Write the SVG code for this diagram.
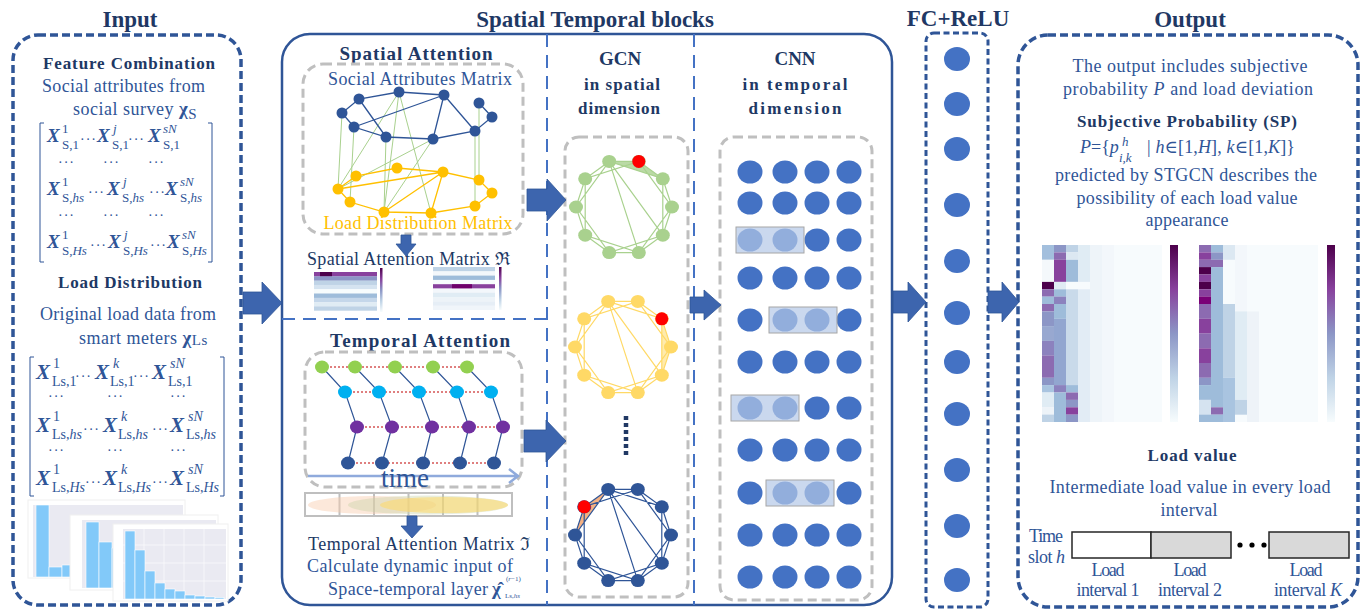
<svg xmlns="http://www.w3.org/2000/svg" width="1367" height="616" viewBox="0 0 1367 616">
<style>
text{font-family:"Liberation Serif","DejaVu Serif",serif}
.ti{font-weight:bold;font-size:23px;fill:#1F3864;text-anchor:middle}
.h{font-weight:bold;font-size:17px;fill:#203864;text-anchor:middle}
.h2{font-weight:bold;font-size:19px;fill:#203864;text-anchor:middle}
.b{font-size:18px;fill:#2F5597}
.bc{font-size:18px;fill:#2F5597;text-anchor:middle}
.dk{font-size:18px;fill:#203864}
.X{font-weight:bold;font-style:italic;font-size:19px;fill:#2F5597}
.X2{font-weight:bold;font-style:italic;font-size:21px;fill:#2F5597}
.s{font-size:13px;fill:#2F5597}
.s2{font-size:14px;fill:#2F5597}
.dt{font-size:14px;fill:#2F5597;letter-spacing:1px}
.i{font-style:italic}
.dash{fill:none;stroke:#2F5597;stroke-width:3.5;stroke-dasharray:8 4}
.gbox{fill:none;stroke:#BFBFBF;stroke-width:3;stroke-dasharray:9 5}
.arr{fill:#3D65AE;stroke:#2F5597;stroke-width:0.8}
.cn{fill:#4472C4}
.hl{fill:#B4C7E7;fill-opacity:0.7;stroke:#A6A6A6;stroke-width:1}
.mb{fill:none;stroke:#2F5597;stroke-width:1}
</style>
<defs>
<linearGradient id="cb" x1="0" y1="0" x2="0" y2="1">
<stop offset="0" stop-color="#4D004B"/><stop offset="0.25" stop-color="#88419D"/><stop offset="0.5" stop-color="#8C96C6"/><stop offset="0.75" stop-color="#BFD3E6"/><stop offset="1" stop-color="#F7FCFD"/>
</linearGradient>
<g id="dec">
<path d="M-14.8,-45.6 L14.8,-45.6 L38.8,-28.2 L48,0 L38.8,28.2 L14.8,45.6 L-14.8,45.6 L-38.8,28.2 L-48,0 L-38.8,-28.2Z M-14.8,-45.6 L38.8,-28.2 L38.8,28.2 L-14.8,45.6 L-48,0Z M14.8,-45.6 L48,0 L14.8,45.6 L-38.8,28.2 L-38.8,-28.2Z M-14.8,-45.6 L14.8,45.6 M-14.8,-45.6 L38.8,28.2" fill="none" stroke="currentColor" stroke-width="1.2"/>
<g fill="currentColor">
<ellipse cx="-14.8" cy="-45.6" rx="7" ry="6.5"/><ellipse cx="14.8" cy="-45.6" rx="7" ry="6.5"/><ellipse cx="38.8" cy="-28.2" rx="7" ry="6.5"/><ellipse cx="48" cy="0" rx="7" ry="6.5"/><ellipse cx="38.8" cy="28.2" rx="7" ry="6.5"/><ellipse cx="14.8" cy="45.6" rx="7" ry="6.5"/><ellipse cx="-14.8" cy="45.6" rx="7" ry="6.5"/><ellipse cx="-38.8" cy="28.2" rx="7" ry="6.5"/><ellipse cx="-48" cy="0" rx="7" ry="6.5"/><ellipse cx="-38.8" cy="-28.2" rx="7" ry="6.5"/>
</g>
</g>
</defs>
<rect width="1367" height="616" fill="#fff"/>

<!-- INPUT -->
<g id="input">
<text class="ti" x="130" y="27">Input</text>
<rect class="dash" x="13" y="35" width="228" height="570" rx="25"/>
<text class="h" x="129" y="69" textLength="172">Feature Combination</text>
<text class="b" x="42" y="92" textLength="163">Social attributes from</text>
<text class="b" x="73" y="115" letter-spacing="0.5">social survey <tspan style="font-size:19px;font-weight:bold">χ</tspan><tspan font-size="15" dy="4">S</tspan></text>
<path class="mb" d="M44,123 H40 V262 H44 M208,123 H212 V262 H208"/>
<text class="X" x="47" y="142">X</text><text class="s" x="62" y="133">1</text><text class="s" x="62" y="149">S,1</text>
<text class="dt" x="80" y="144">···</text>
<text class="X" x="97" y="142">X</text><text class="s i" x="113" y="133">j</text><text class="s" x="112" y="149">S,1</text>
<text class="dt" x="128" y="144">···</text>
<text class="X" x="148" y="142">X</text><text class="s i" x="163" y="133">sN</text><text class="s" x="163" y="149">S,1</text>
<text class="dt" x="58" y="167">···</text><text class="dt" x="103" y="167">···</text><text class="dt" x="148" y="167">···</text>
<text class="X" x="47" y="195">X</text><text class="s" x="62" y="186">1</text><text class="s" x="62" y="202">S,<tspan class="i">hs</tspan></text>
<text class="dt" x="88" y="197">···</text>
<text class="X" x="107" y="195">X</text><text class="s i" x="123" y="186">j</text><text class="s" x="122" y="202">S,<tspan class="i">hs</tspan></text>
<text class="dt" x="149" y="197">···</text>
<text class="X" x="165" y="195">X</text><text class="s i" x="180" y="186">sN</text><text class="s" x="180" y="202">S,<tspan class="i">hs</tspan></text>
<text class="dt" x="58" y="220">···</text><text class="dt" x="103" y="220">···</text><text class="dt" x="148" y="220">···</text>
<text class="X" x="47" y="248">X</text><text class="s" x="62" y="239">1</text><text class="s" x="62" y="255">S,<tspan class="i">Hs</tspan></text>
<text class="dt" x="90" y="250">···</text>
<text class="X" x="108" y="248">X</text><text class="s i" x="124" y="239">j</text><text class="s" x="123" y="255">S,<tspan class="i">Hs</tspan></text>
<text class="dt" x="150" y="250">···</text>
<text class="X" x="167" y="248">X</text><text class="s i" x="182" y="239">sN</text><text class="s" x="182" y="255">S,<tspan class="i">Hs</tspan></text>

<text class="h" x="130" y="288" textLength="144">Load Distribution</text>
<text class="b" x="40" y="320" textLength="176">Original load data from</text>
<text class="b" x="79" y="344" letter-spacing="0.5">smart meters <tspan style="font-size:19px;font-weight:bold">χ</tspan><tspan font-size="15" dy="1">Ls</tspan></text>
<path class="mb" d="M34,357 H30 V496 H34 M220,357 H224 V496 H220"/>
<text class="X2" x="36" y="379">X</text><text class="s2" x="53" y="368">1</text><text class="s2" x="52" y="386">Ls,1</text>
<text class="dt" x="75" y="381">···</text>
<text class="X2" x="95" y="379">X</text><text class="s2 i" x="113" y="368">k</text><text class="s2" x="110" y="386">Ls,1</text>
<text class="dt" x="133" y="381">···</text>
<text class="X2" x="152" y="379">X</text><text class="s2 i" x="170" y="368">sN</text><text class="s2" x="168" y="386">Ls,1</text>
<text class="dt" x="48" y="401">···</text><text class="dt" x="107" y="401">···</text><text class="dt" x="170" y="401">···</text>
<text class="X2" x="36" y="432">X</text><text class="s2" x="53" y="421">1</text><text class="s2" x="52" y="439">Ls,<tspan class="i">hs</tspan></text>
<text class="dt" x="83" y="434">···</text>
<text class="X2" x="103" y="432">X</text><text class="s2 i" x="121" y="421">k</text><text class="s2" x="118" y="439">Ls,<tspan class="i">hs</tspan></text>
<text class="dt" x="152" y="434">···</text>
<text class="X2" x="170" y="432">X</text><text class="s2 i" x="188" y="421">sN</text><text class="s2" x="186" y="439">Ls,<tspan class="i">hs</tspan></text>
<text class="dt" x="48" y="455">···</text><text class="dt" x="107" y="455">···</text><text class="dt" x="170" y="455">···</text>
<text class="X2" x="36" y="485">X</text><text class="s2" x="53" y="474">1</text><text class="s2" x="52" y="492">Ls,<tspan class="i">Hs</tspan></text>
<text class="dt" x="85" y="487">···</text>
<text class="X2" x="103" y="485">X</text><text class="s2 i" x="121" y="474">k</text><text class="s2" x="118" y="492">Ls,<tspan class="i">Hs</tspan></text>
<text class="dt" x="152" y="487">···</text>
<text class="X2" x="170" y="485">X</text><text class="s2 i" x="188" y="474">sN</text><text class="s2" x="186" y="492">Ls,<tspan class="i">Hs</tspan></text>

<!-- histograms -->
<g id="hist">
<rect x="28" y="500" width="157" height="78" fill="#fff" stroke="#F0F0F0"/>
<rect x="33" y="505" width="150" height="72" fill="#EAEAF2"/>
<g fill="#82C9F9" stroke="#fff" stroke-width="0.6">
<rect x="36" y="505" width="13" height="72"/><rect x="49" y="567" width="13" height="10"/><rect x="62" y="565" width="13" height="12"/>
</g>
<rect x="70" y="515" width="148" height="75" fill="#fff" stroke="#F0F0F0"/>
<rect x="82" y="520" width="134" height="68" fill="#EAEAF2"/>
<g fill="#82C9F9" stroke="#fff" stroke-width="0.6">
<rect x="86" y="522" width="13" height="66"/><rect x="99" y="542" width="13" height="46"/><rect x="112" y="548" width="4" height="40"/>
</g>
<rect x="113" y="524" width="115" height="77" fill="#fff" stroke="#F0F0F0"/>
<rect x="123" y="529" width="103" height="70" fill="#EAEAF2"/>
<g stroke="#fff" stroke-width="0.6"><path d="M144,529V599M164,529V599M184,529V599M204,529V599M123,545H226M123,563H226M123,581H226" fill="none"/></g>
<g fill="#82C9F9" stroke="#fff" stroke-width="0.6">
<rect x="125" y="531" width="10" height="68"/><rect x="135" y="550" width="10" height="49"/><rect x="145" y="571" width="10" height="28"/><rect x="155" y="583" width="10" height="16"/><rect x="165" y="589" width="10" height="10"/><rect x="175" y="591" width="10" height="8"/><rect x="185" y="595" width="10" height="4"/><rect x="195" y="596" width="10" height="3"/><rect x="205" y="597" width="10" height="2"/><rect x="215" y="597.5" width="9" height="1.5"/>
</g>
</g>
</g>

<!-- SPATIAL TEMPORAL BLOCKS -->
<g id="st-blocks">
<text class="ti" x="595" y="27">Spatial Temporal blocks</text>
<rect x="282" y="34" width="610" height="571" rx="28" fill="none" stroke="#2F5597" stroke-width="2.5"/>
<path d="M547,34 V605 M694,34 V605" stroke="#4472C4" stroke-width="2" stroke-dasharray="13 8" fill="none"/>
<path d="M282,319 H547" stroke="#4472C4" stroke-width="2" stroke-dasharray="13 8" fill="none"/>

<g id="spatial-attention">
<text class="h2" x="416" y="60" textLength="153">Spatial Attention</text>
<rect class="gbox" x="303" y="64" width="220" height="170" rx="20"/>
<text class="bc" x="420" y="85" textLength="184">Social Attributes Matrix</text>
<g stroke="#A9D18E" stroke-width="1" fill="none">
<path d="M342,113 L338,189 M354,127 L350,202 M386,137 L384,212 M475,131 L475,206 M399,92 L338,189 M399,92 L384,212 M399,92 L431,213 M433,139 L338,189 M433,139 L384,212 M479,103 L479,180"/>
</g>
<g stroke="#2F5597" stroke-width="1.3" fill="none">
<path d="M342,113 L359,99 L399,92 L444,95 M479,103 L492,117 L475,131 L433,139 L386,137 L354,127 L342,113 M359,99 L386,137 M444,95 L354,127 M444,95 L433,139 M444,95 L475,131"/>
</g>
<g stroke="#FFC000" stroke-width="1.3" fill="none">
<path d="M338,189 L356,176 L397,168 L443,172 L479,180 L492,193 L475,206 L431,213 L384,212 L350,202 L338,189 M338,189 L443,172 M443,172 L384,212 M443,172 L431,213"/>
</g>
<g fill="#2F5597">
<circle cx="359" cy="99" r="5.5"/><circle cx="399" cy="92" r="5.5"/><circle cx="444" cy="95" r="5.5"/><circle cx="479" cy="103" r="5.5"/><circle cx="492" cy="117" r="5.5"/><circle cx="475" cy="131" r="5.5"/><circle cx="433" cy="139" r="5.5"/><circle cx="386" cy="137" r="5.5"/><circle cx="354" cy="127" r="5.5"/><circle cx="342" cy="113" r="5.5"/>
</g>
<g fill="#FFC000">
<circle cx="356" cy="176" r="5.5"/><circle cx="397" cy="168" r="5.5"/><circle cx="443" cy="172" r="5.5"/><circle cx="479" cy="180" r="5.5"/><circle cx="492" cy="193" r="5.5"/><circle cx="475" cy="206" r="5.5"/><circle cx="431" cy="213" r="5.5"/><circle cx="384" cy="212" r="5.5"/><circle cx="350" cy="202" r="5.5"/><circle cx="338" cy="189" r="5.5"/>
</g>
<text x="418" y="229" textLength="189" style="font-size:18px;fill:#FFC000;text-anchor:middle">Load Distribution Matrix</text>
<text class="dk" x="307" y="265" textLength="203">Spatial Attention Matrix ℜ</text>
<g id="sa-heat1">
<rect x="314" y="272" width="63" height="4.5" fill="#88419D"/><rect x="320" y="272" width="12" height="4.5" fill="#4D004B"/>
<rect x="314" y="276.3" width="63" height="4.5" fill="#8C96C6"/>
<rect x="314" y="280.6" width="63" height="4.5" fill="#BFD3E6"/>
<rect x="314" y="284.9" width="63" height="4.5" fill="#D5E3F0"/>
<rect x="314" y="289.2" width="63" height="4.5" fill="#F7FCFD"/>
<rect x="314" y="293.5" width="63" height="4.5" fill="#9EBCDA"/>
<rect x="314" y="297.8" width="63" height="4.5" fill="#C5D7EA"/>
<rect x="314" y="302.1" width="63" height="4.5" fill="#E0ECF4"/>
<rect x="314" y="306.4" width="63" height="4.3" fill="#BFD3E6"/>
<rect x="380" y="268" width="2.5" height="44" fill="url(#cb)"/>
</g>
<g id="sa-heat2">
<rect x="433" y="267" width="62" height="4.5" fill="#BFD3E6"/>
<rect x="433" y="271.3" width="62" height="4.5" fill="#F3F7FB"/>
<rect x="433" y="275.6" width="62" height="4.5" fill="#9EBCDA"/>
<rect x="433" y="279.9" width="62" height="4.5" fill="#F7FCFD"/>
<rect x="433" y="284.2" width="62" height="4.5" fill="#88419D"/><rect x="452" y="284.2" width="20" height="4.5" fill="#6E016B"/>
<rect x="433" y="288.5" width="62" height="4.5" fill="#F3F7FB"/>
<rect x="433" y="292.8" width="62" height="4.5" fill="#E0ECF4"/>
<rect x="433" y="297.1" width="62" height="4.5" fill="#EDF3F8"/>
<rect x="433" y="301.4" width="62" height="4.5" fill="#E6EEF6"/>
<rect x="433" y="305.7" width="62" height="4.3" fill="#F0F5FA"/>
<rect x="499" y="267" width="2.5" height="43" fill="url(#cb)"/>
</g>
</g>

<g id="temporal-attention">
<text class="h2" x="420" y="347" textLength="180">Temporal Attention</text>
<rect class="gbox" x="305" y="352" width="217" height="135" rx="20"/>
<g stroke="#C00000" stroke-width="1.2" stroke-dasharray="2 2">
<path d="M322,367 H467 M345,392 H491 M357,427 H503 M348,463 H494"/>
</g>
<g stroke="#2F5597" stroke-width="1.2" fill="none">
<path d="M322,367 L345,392 L357,427 L348,463 M355,367 L379,392 L392,427 L382,463 M395,367 L419,392 L432,427 L423,463 M433,367 L457,392 L469,427 L460,463 M467,367 L491,392 L503,427 L494,463"/>
</g>
<g fill="#92D050"><ellipse cx="322" cy="367" rx="7" ry="6.5"/><ellipse cx="355" cy="367" rx="7" ry="6.5"/><ellipse cx="395" cy="367" rx="7" ry="6.5"/><ellipse cx="433" cy="367" rx="7" ry="6.5"/><ellipse cx="467" cy="367" rx="7" ry="6.5"/></g>
<g fill="#00B0F0"><ellipse cx="345" cy="392" rx="7" ry="6.5"/><ellipse cx="379" cy="392" rx="7" ry="6.5"/><ellipse cx="419" cy="392" rx="7" ry="6.5"/><ellipse cx="457" cy="392" rx="7" ry="6.5"/><ellipse cx="491" cy="392" rx="7" ry="6.5"/></g>
<g fill="#7030A0"><ellipse cx="357" cy="427" rx="7" ry="6.5"/><ellipse cx="392" cy="427" rx="7" ry="6.5"/><ellipse cx="432" cy="427" rx="7" ry="6.5"/><ellipse cx="469" cy="427" rx="7" ry="6.5"/><ellipse cx="503" cy="427" rx="7" ry="6.5"/></g>
<g fill="#2F5597"><ellipse cx="348" cy="463" rx="7" ry="6.5"/><ellipse cx="382" cy="463" rx="7" ry="6.5"/><ellipse cx="423" cy="463" rx="7" ry="6.5"/><ellipse cx="460" cy="463" rx="7" ry="6.5"/><ellipse cx="494" cy="463" rx="7" ry="6.5"/></g>
<path d="M308,476 H517 M509,469 L518,476 L509,483" fill="none" stroke="#8FAADC" stroke-width="2.5"/>
<text x="405" y="487" style="font-size:27px;fill:#2F5597;text-anchor:middle">time</text>
<rect x="305" y="493" width="207" height="23" fill="#fff" stroke="#BFBFBF" stroke-width="2"/>
<path d="M339.5,493 V516 M374,493 V516 M408.5,493 V516 M443,493 V516 M477.5,493 V516" stroke="#BFBFBF" stroke-width="2"/>
<ellipse cx="372" cy="505" rx="64" ry="9" fill="#F8CBAD" fill-opacity="0.45"/>
<ellipse cx="428" cy="505" rx="80" ry="9.5" fill="#C9D3A6" fill-opacity="0.4"/>
<ellipse cx="444" cy="505" rx="64" ry="8" fill="#FFD966" fill-opacity="0.55"/>
<text class="dk" x="308" y="550" textLength="222">Temporal Attention Matrix ℑ</text>
<text class="b" x="307" y="572" textLength="206">Calculate dynamic input of</text>
<text class="b" x="328" y="595" textLength="160">Space-temporal layer</text>
<text x="492" y="595" style="font-size:19px;font-weight:bold;fill:#2F5597">χ̂</text>
<text x="506" y="581" style="font-size:7px;fill:#2F5597">(<tspan class="i">r</tspan>−1)</text>
<text x="505" y="598" style="font-size:7px;fill:#2F5597">Ls,<tspan class="i">hs</tspan></text>
</g>

<g id="gcn">
<text class="h" x="620" y="65" style="font-size:19px">GCN</text>
<text class="h" x="622" y="90" textLength="76">in spatial</text>
<text class="h" x="619" y="114" textLength="82">dimension</text>
<rect class="gbox" x="565" y="137" width="123" height="460" rx="14"/>
<polygon points="609.2,161.4 638.8,161.4 662.8,178.8" fill="#A9D18E" fill-opacity="0.8"/>
<use href="#dec" x="624" y="207" style="color:#A9D18E"/>
<circle cx="638.8" cy="161.4" r="6.5" fill="#FF0000"/>
<polygon points="661.8,318.8 671,347 661.8,375.2" fill="#FFE699" fill-opacity="0.8"/>
<use href="#dec" x="623" y="347" style="color:#FFD966"/>
<circle cx="661.8" cy="318.8" r="6.5" fill="#FF0000"/>
<path d="M626,416 V458" stroke="#203864" stroke-width="4.5" stroke-dasharray="4 3"/>
<polygon points="608.2,489.4 584.2,506.8 575,535" fill="#F4B183"/>
<use href="#dec" x="623" y="535" style="color:#2F5597"/>
<circle cx="584.2" cy="506.8" r="6.5" fill="#FF0000"/>
</g>

<g id="cnn">
<text class="h" x="795" y="65" style="font-size:19px">CNN</text>
<text class="h" x="795" y="90" textLength="105">in temporal</text>
<text class="h" x="795" y="114" textLength="93">dimension</text>
<rect class="gbox" x="720" y="137" width="152" height="463" rx="14"/>
<g class="cn">
<ellipse cx="750" cy="172" rx="12.5" ry="11.5"/><ellipse cx="785" cy="172" rx="12.5" ry="11.5"/><ellipse cx="817" cy="172" rx="12.5" ry="11.5"/><ellipse cx="849" cy="172" rx="12.5" ry="11.5"/>
<ellipse cx="750" cy="203" rx="12.5" ry="11.5"/><ellipse cx="785" cy="203" rx="12.5" ry="11.5"/><ellipse cx="817" cy="203" rx="12.5" ry="11.5"/><ellipse cx="849" cy="203" rx="12.5" ry="11.5"/>
<ellipse cx="750" cy="240" rx="12.5" ry="11.5"/><ellipse cx="785" cy="240" rx="12.5" ry="11.5"/><ellipse cx="817" cy="240" rx="12.5" ry="11.5"/><ellipse cx="849" cy="240" rx="12.5" ry="11.5"/>
<ellipse cx="750" cy="278" rx="12.5" ry="11.5"/><ellipse cx="785" cy="278" rx="12.5" ry="11.5"/><ellipse cx="817" cy="278" rx="12.5" ry="11.5"/><ellipse cx="849" cy="278" rx="12.5" ry="11.5"/>
<ellipse cx="750" cy="320" rx="12.5" ry="11.5"/><ellipse cx="785" cy="320" rx="12.5" ry="11.5"/><ellipse cx="817" cy="320" rx="12.5" ry="11.5"/><ellipse cx="849" cy="320" rx="12.5" ry="11.5"/>
<ellipse cx="750" cy="362" rx="12.5" ry="11.5"/><ellipse cx="785" cy="362" rx="12.5" ry="11.5"/><ellipse cx="817" cy="362" rx="12.5" ry="11.5"/><ellipse cx="849" cy="362" rx="12.5" ry="11.5"/>
<ellipse cx="750" cy="408" rx="12.5" ry="11.5"/><ellipse cx="785" cy="408" rx="12.5" ry="11.5"/><ellipse cx="817" cy="408" rx="12.5" ry="11.5"/><ellipse cx="849" cy="408" rx="12.5" ry="11.5"/>
<ellipse cx="750" cy="450" rx="12.5" ry="11.5"/><ellipse cx="785" cy="450" rx="12.5" ry="11.5"/><ellipse cx="817" cy="450" rx="12.5" ry="11.5"/><ellipse cx="849" cy="450" rx="12.5" ry="11.5"/>
<ellipse cx="750" cy="493" rx="12.5" ry="11.5"/><ellipse cx="785" cy="493" rx="12.5" ry="11.5"/><ellipse cx="817" cy="493" rx="12.5" ry="11.5"/><ellipse cx="849" cy="493" rx="12.5" ry="11.5"/>
<ellipse cx="750" cy="535" rx="12.5" ry="11.5"/><ellipse cx="785" cy="535" rx="12.5" ry="11.5"/><ellipse cx="817" cy="535" rx="12.5" ry="11.5"/><ellipse cx="849" cy="535" rx="12.5" ry="11.5"/>
<ellipse cx="750" cy="577" rx="12.5" ry="11.5"/><ellipse cx="785" cy="577" rx="12.5" ry="11.5"/><ellipse cx="817" cy="577" rx="12.5" ry="11.5"/><ellipse cx="849" cy="577" rx="12.5" ry="11.5"/>
</g>
<rect class="hl" x="736" y="227" width="68" height="26"/>
<rect class="hl" x="769" y="307" width="68" height="26"/>
<rect class="hl" x="731" y="395" width="68" height="26"/>
<rect class="hl" x="766" y="480" width="68" height="26"/>
</g>
</g>

<!-- FC+ReLU -->
<g id="fc">
<text class="ti" x="958" y="26">FC+ReLU</text>
<rect x="926" y="33" width="62" height="574" rx="8" fill="none" stroke="#2F5597" stroke-width="3" stroke-dasharray="6 3.5"/>
<g class="cn">
<ellipse cx="957" cy="59" rx="13" ry="12"/><ellipse cx="957" cy="104" rx="13" ry="12"/><ellipse cx="957" cy="149" rx="13" ry="12"/><ellipse cx="957" cy="205" rx="13" ry="12"/><ellipse cx="957" cy="261" rx="13" ry="12"/><ellipse cx="957" cy="313" rx="13" ry="12"/><ellipse cx="957" cy="362" rx="13" ry="12"/><ellipse cx="957" cy="414" rx="13" ry="12"/><ellipse cx="957" cy="470" rx="13" ry="12"/><ellipse cx="957" cy="526" rx="13" ry="12"/><ellipse cx="957" cy="580" rx="13" ry="12"/>
</g>
</g>

<!-- OUTPUT -->
<g id="output">
<text class="ti" x="1190" y="27">Output</text>
<rect class="dash" x="1018" y="35" width="340" height="572" rx="30"/>
<text class="bc" x="1190" y="72" textLength="235">The output includes  subjective</text>
<text class="bc" x="1188" y="95" textLength="250">probability  <tspan class="i">P</tspan>  and load deviation</text>
<text class="h" x="1187" y="127" textLength="220">Subjective Probability (SP)</text>
<text class="b" x="1080" y="153"><tspan class="i">P</tspan>={<tspan class="i">p</tspan></text>
<text x="1122" y="146" style="font-size:13px;font-style:italic;fill:#2F5597">h</text>
<text x="1119" y="162" style="font-size:13px;font-style:italic;fill:#2F5597">i,k</text>
<text class="b" x="1147" y="153" textLength="148">| <tspan class="i">h</tspan>∈[1,<tspan class="i">H</tspan>], <tspan class="i">k</tspan>∈[1,<tspan class="i">K</tspan>]}</text>
<text class="bc" x="1186" y="181" textLength="262">predicted by STGCN describes the</text>
<text class="bc" x="1187" y="204" textLength="221">possibility of each load value</text>
<text class="bc" x="1187" y="226" textLength="83">appearance</text>

<g id="heat-left">
<rect x="1042" y="245" width="120" height="177" fill="#F7FBFD"/>
<rect x="1042" y="245" width="12" height="14.8" fill="#A3BFDD"/><rect x="1042" y="259.8" width="12" height="22.1" fill="#F4F8FB"/><rect x="1042" y="281.9" width="12" height="7.4" fill="#4D004B"/><rect x="1042" y="289.3" width="12" height="7.4" fill="#8C6BB1"/><rect x="1042" y="296.6" width="12" height="7.4" fill="#9EBCDA"/><rect x="1042" y="304" width="12" height="7.4" fill="#8C6BB1"/><rect x="1042" y="311.4" width="12" height="14.8" fill="#8C96C6"/><rect x="1042" y="326.1" width="12" height="14.8" fill="#98A8D0"/><rect x="1042" y="340.9" width="12" height="14.8" fill="#8C82BE"/><rect x="1042" y="355.6" width="12" height="22.2" fill="#8C6BB1"/><rect x="1042" y="377.8" width="12" height="7.4" fill="#8C96C6"/><rect x="1042" y="385.1" width="12" height="7.4" fill="#A9C4E0"/><rect x="1042" y="392.5" width="12" height="14.8" fill="#E0ECF4"/><rect x="1042" y="407.3" width="12" height="7.4" fill="#EDF3F8"/><rect x="1042" y="414.6" width="12" height="7.4" fill="#BFD3E6"/>
<rect x="1054" y="245" width="12" height="7.4" fill="#8C96C6"/><rect x="1054" y="252.4" width="12" height="7.4" fill="#8C6BB1"/><rect x="1054" y="259.8" width="12" height="22.1" fill="#88419D"/><rect x="1054" y="281.9" width="12" height="7.4" fill="#E0ECF4"/><rect x="1054" y="289.3" width="12" height="7.4" fill="#9EBCDA"/><rect x="1054" y="296.6" width="12" height="7.4" fill="#8C82BE"/><rect x="1054" y="304" width="12" height="14.8" fill="#9EBCDA"/><rect x="1054" y="318.8" width="12" height="66.4" fill="#92A6D0"/><rect x="1054" y="385.1" width="12" height="7.4" fill="#8C82BE"/><rect x="1054" y="392.5" width="12" height="29.5" fill="#9EBCDA"/>
<rect x="1066" y="245" width="12" height="7.4" fill="#BFD3E6"/><rect x="1066" y="252.4" width="12" height="7.4" fill="#DCE8F2"/><rect x="1066" y="259.8" width="12" height="22.1" fill="#9EBCDA"/><rect x="1066" y="281.9" width="12" height="7.4" fill="#F7FCFD"/><rect x="1066" y="289.3" width="12" height="95.9" fill="#C9DAEA"/><rect x="1066" y="385.1" width="12" height="7.4" fill="#9EBCDA"/><rect x="1066" y="392.5" width="12" height="7.4" fill="#8C6BB1"/><rect x="1066" y="399.9" width="12" height="7.4" fill="#8C96C6"/><rect x="1066" y="407.3" width="12" height="7.4" fill="#88419D"/><rect x="1066" y="414.6" width="12" height="7.4" fill="#8C96C6"/>
<rect x="1078" y="245" width="12" height="36.9" fill="#E0ECF4"/><rect x="1078" y="289.3" width="12" height="132.7" fill="#E2ECF5"/>
<rect x="1090" y="245" width="12" height="177" fill="#EEF4F9"/>
<rect x="1102" y="245" width="12" height="177" fill="#F3F7FB"/>
<rect x="1170" y="245" width="8" height="177" fill="url(#cb)"/>
</g>
<g id="heat-right">
<rect x="1199" y="245" width="119" height="177" fill="#F7FBFD"/>
<rect x="1199" y="245" width="12" height="7.4" fill="#8C6BB1"/><rect x="1199" y="252.4" width="12" height="7.4" fill="#88419D"/><rect x="1199" y="259.8" width="12" height="7.4" fill="#8C6BB1"/><rect x="1199" y="267.1" width="12" height="7.4" fill="#4D004B"/><rect x="1199" y="274.5" width="12" height="7.4" fill="#88419D"/><rect x="1199" y="281.9" width="12" height="7.4" fill="#4D004B"/><rect x="1199" y="289.3" width="12" height="7.4" fill="#88419D"/><rect x="1199" y="296.6" width="12" height="7.4" fill="#7A0177"/><rect x="1199" y="304" width="12" height="14.8" fill="#8C6BB1"/><rect x="1199" y="318.8" width="12" height="14.8" fill="#88419D"/><rect x="1199" y="333.5" width="12" height="14.8" fill="#8C6BB1"/><rect x="1199" y="348.3" width="12" height="14.8" fill="#88419D"/><rect x="1199" y="363" width="12" height="14.8" fill="#8C6BB1"/><rect x="1199" y="377.8" width="12" height="7.4" fill="#8C96C6"/><rect x="1199" y="385.1" width="12" height="14.8" fill="#9EBCDA"/><rect x="1199" y="399.9" width="12" height="14.8" fill="#D5E3F0"/><rect x="1199" y="414.6" width="12" height="7.4" fill="#9EBCDA"/>
<rect x="1211" y="245" width="12" height="7.4" fill="#9EBCDA"/><rect x="1211" y="252.4" width="12" height="7.4" fill="#8C96C6"/><rect x="1211" y="259.8" width="12" height="7.4" fill="#8C6BB1"/><rect x="1211" y="267.1" width="12" height="140.2" fill="#9EBCDA"/><rect x="1211" y="407.3" width="12" height="7.4" fill="#8C6BB1"/><rect x="1211" y="414.6" width="12" height="7.4" fill="#9EBCDA"/>
<rect x="1223" y="245" width="12" height="14.8" fill="#DCE8F2"/><rect x="1223" y="304" width="12" height="73.8" fill="#BFD3E6"/><rect x="1223" y="377.8" width="12" height="44.2" fill="#A9C4E0"/>
<rect x="1235" y="245" width="12" height="66.4" fill="#F3F7FB"/><rect x="1235" y="311.4" width="12" height="88.5" fill="#E0ECF4"/><rect x="1235" y="399.9" width="12" height="14.8" fill="#BFD3E6"/>
<rect x="1247" y="311.4" width="12" height="110.6" fill="#EEF3F8"/>
<rect x="1327" y="245" width="8" height="177" fill="url(#cb)"/>
</g>

<text class="h" x="1192" y="461" textLength="89">Load value</text>
<text class="bc" x="1190" y="493" textLength="281">Intermediate load value in every load</text>
<text class="bc" x="1189" y="516" textLength="57">interval</text>
<text class="b" x="1029" y="542" textLength="34">Time</text>
<text class="b" x="1028" y="563" textLength="37">slot <tspan class="i">h</tspan></text>
<rect x="1072" y="532" width="79" height="26" fill="#fff" stroke="#262626" stroke-width="1.5"/>
<rect x="1151" y="532" width="80" height="26" fill="#D9D9D9" stroke="#262626" stroke-width="1.5"/>
<circle cx="1240" cy="545" r="2.6" fill="#000"/><circle cx="1252" cy="545" r="2.6" fill="#000"/><circle cx="1264" cy="545" r="2.6" fill="#000"/>
<rect x="1269" y="532" width="80" height="26" fill="#D9D9D9" stroke="#262626" stroke-width="1.5"/>
<text class="bc" x="1108" y="576" textLength="33">Load</text><text class="bc" x="1108" y="596" textLength="63">interval 1</text>
<text class="bc" x="1190" y="576" textLength="33">Load</text><text class="bc" x="1190" y="596" textLength="64">interval 2</text>
<text class="bc" x="1306" y="576" textLength="33">Load</text><text class="bc" x="1308" y="596" textLength="68">interval <tspan class="i">K</tspan></text>
</g>

<!-- CONNECTORS -->
<g id="connectors">
<path class="arr" d="M243,292 H262 V282 L282,303 L262,324 V314 H243 Z"/>
<path class="arr" d="M527,189 H547 V179 L566,200 L547,221 V211 H527 Z"/>
<path class="arr" d="M524,430 H546 V420 L566,441 L546,462 V452 H524 Z"/>
<path class="arr" d="M690,297 H704 V290 L721,305 L704,320 V313 H690 Z"/>
<path class="arr" d="M893,291 H908 V282 L926,302 L908,322 V313 H893 Z"/>
<path class="arr" d="M988,291 H1002 V282 L1019,302 L1002,322 V313 H988 Z"/>
<path class="arr" d="M401,235 H411 V244 H416 L406,256 L396,244 H401 Z"/>
<path class="arr" d="M407,516 H417 V526 H423 L412,538 L401,526 H407 Z"/>
</g>
</svg>
